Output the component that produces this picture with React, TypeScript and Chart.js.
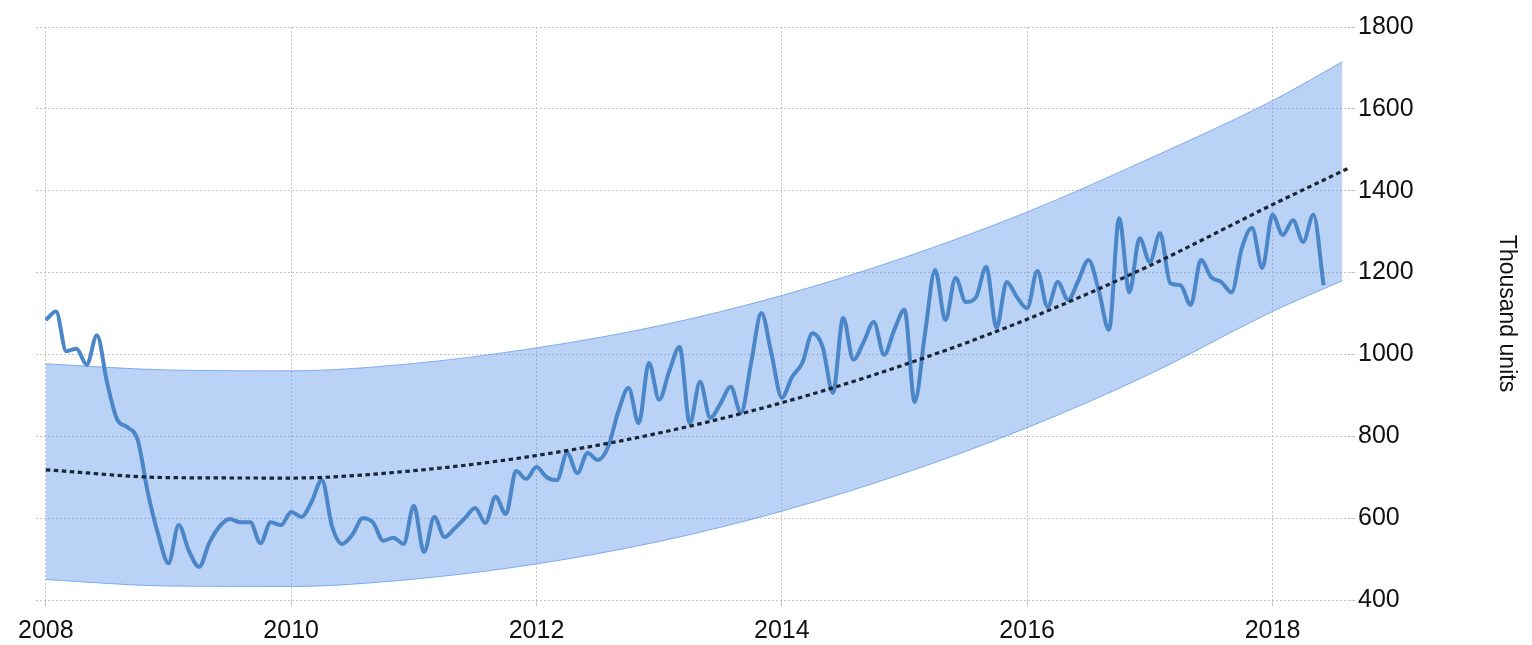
import React, { useEffect, useRef } from "react";
import { Chart, registerables } from "chart.js";

Chart.register(...registerables);

// Monthly values, Jan 2008 .. Jun 2018 (thousand units)
const startYear = 2008;
const monthlyValues = [
  1084, 1105, 1008, 1014, 975, 1047, 930, 840, 822, 790, 660, 560,
  490, 583, 520, 481, 540, 580, 598, 590, 590, 539, 590, 583,
  615, 603, 640, 693, 580, 537, 560, 600, 590, 545, 552, 537,
  630, 517, 603, 554, 575, 600, 625, 588, 652, 610, 715, 696,
  725, 700, 693, 759, 710, 759, 742, 774, 860, 918, 832, 979,
  889, 960, 1018, 832, 933, 845, 880, 921, 857, 980, 1101, 1000,
  894, 945, 979, 1052, 1018, 906, 1089, 987, 1030, 1079, 999, 1060,
  1109, 884, 1050, 1206, 1084, 1187, 1128, 1140, 1214, 1065, 1177, 1140,
  1113, 1204, 1116, 1177, 1133, 1180, 1231, 1157, 1060, 1333, 1152, 1284,
  1226, 1296, 1174, 1169, 1121, 1231, 1189, 1177, 1152, 1260, 1309, 1211,
  1341, 1292, 1328, 1275, 1341, 1169,
];

// Trend and confidence band (read at yearly points)
const trendYears = [2008, 2009, 2010, 2011, 2012, 2013, 2014, 2015, 2016, 2017, 2018, 2018.62];
const trendValues = [718, 699, 698, 716, 753, 808, 882, 975, 1086, 1217, 1366, 1455];
const bandYears = [2008, 2009, 2010, 2011, 2012, 2013, 2014, 2015, 2016, 2017, 2018, 2018.57];
const bandUpper = [977, 962, 960, 978, 1016, 1070, 1144, 1237, 1348, 1479, 1620, 1715];
const bandLower = [450, 434, 433, 451, 488, 543, 617, 710, 821, 952, 1105, 1180];

const xTickYears = [2008, 2010, 2012, 2014, 2016, 2018];
const yTicks = [400, 600, 800, 1000, 1200, 1400, 1600, 1800];
const yTitle = "Thousand units";

const FONT = "'Liberation Sans', Arial, sans-serif";

export default function App() {
  const ref = useRef<HTMLCanvasElement | null>(null);

  useEffect(() => {
    if (!ref.current) return;
    const series = monthlyValues.map((v, i) => ({ x: startYear + i / 12, y: v }));
    const trend = trendYears.map((x, i) => ({ x, y: trendValues[i] }));
    const upper = bandYears.map((x, i) => ({ x, y: bandUpper[i] }));
    const lower = bandYears.map((x, i) => ({ x, y: bandLower[i] }));

    const chart = new Chart(ref.current, {
      type: "line",
      data: {
        datasets: [
          {
            label: "Trend",
            data: trend,
            borderColor: "#1b2535",
            borderWidth: 3.2,
            borderDash: [4.5, 3.5],
            pointRadius: 0,
            fill: false,
            cubicInterpolationMode: "monotone",
          },
          {
            label: "Sales",
            data: series,
            borderColor: "#4a86c8",
            borderWidth: 4,
            pointRadius: 0,
            fill: false,
            cubicInterpolationMode: "monotone",
          },
          {
            label: "Lower",
            data: lower,
            borderColor: "rgba(90,145,230,0.7)",
            borderWidth: 1,
            pointRadius: 0,
            fill: false,
            cubicInterpolationMode: "monotone",
          },
          {
            label: "Upper",
            data: upper,
            borderColor: "rgba(90,145,230,0.7)",
            backgroundColor: "rgba(100,155,235,0.45)",
            borderWidth: 1,
            pointRadius: 0,
            fill: "-1",
            cubicInterpolationMode: "monotone",
          },
        ],
      },
      options: {
        responsive: false,
        animation: false,
        layout: { padding: { left: 36, top: 27, right: 0, bottom: 0 } },
        plugins: {
          legend: { display: false },
          tooltip: { enabled: false },
        },
        scales: {
          x: {
            type: "linear",
            min: 2007.92,
            max: 2018.64,
            afterBuildTicks: (scale: any) => {
              scale.ticks = xTickYears.map((v) => ({ value: v }));
            },
            afterFit: (scale: any) => {
              scale.height = 45;
            },
            ticks: {
              color: "#111",
              font: { family: FONT, size: 25 },
              padding: 10,
              maxRotation: 0,
              autoSkip: false,
              callback: (v: any) => String(v),
            },
            grid: {
              color: "#c4c4c4",
              lineWidth: 1,
              drawTicks: true,
              tickLength: 6,
              tickColor: "#c4c4c4",
            },
            border: { display: false, dash: [2, 2] },
          },
          y: {
            type: "linear",
            position: "right",
            min: 400,
            max: 1800,
            afterBuildTicks: (scale: any) => {
              scale.ticks = yTicks.map((v) => ({ value: v }));
            },
            afterFit: (scale: any) => {
              scale.width = 181;
            },
            ticks: {
              color: "#111",
              font: { family: FONT, size: 25 },
              padding: 3,
              callback: (v: any) => String(v),
            },
            grid: {
              color: "#c4c4c4",
              lineWidth: 1,
              drawTicks: true,
              tickLength: 4,
              tickColor: "#c4c4c4",
            },
            border: { display: false, dash: [2, 2] },
            title: {
              display: true,
              text: yTitle,
              color: "#111",
              font: { family: FONT, size: 23 },
              padding: { top: 12, bottom: 0 },
            },
          },
        },
      },
    });
    return () => chart.destroy();
  }, []);

  return (
    <div style={{ position: "absolute", left: 0, top: 0, width: 1532, height: 645, background: "#fff" }}>
      <canvas ref={ref} width={1532} height={645} style={{ display: "block" }} />
    </div>
  );
}
